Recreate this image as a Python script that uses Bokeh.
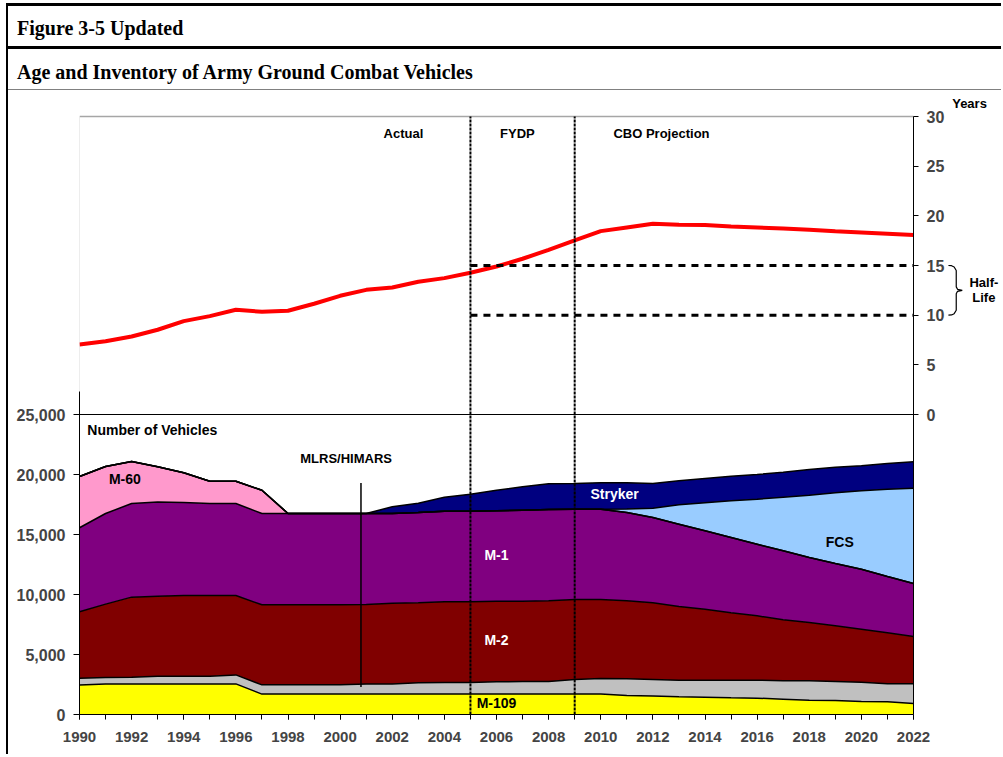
import numpy as np
from bokeh.plotting import figure
from bokeh.models import (Range1d, LinearAxis, FixedTicker, NumeralTickFormatter,
                          Label, Div, ColumnDataSource)
from bokeh.layouts import column
from bokeh.embed import file_html
from bokeh.resources import INLINE

# ---------------- data ----------------
years = list(range(1990, 2023))
m109 = [2450, 2550, 2550, 2550, 2550, 2550, 2550, 1700, 1700, 1700, 1700, 1700, 1700, 1700,
        1700, 1700, 1700, 1700, 1700, 1700, 1700, 1580, 1550, 1470, 1440, 1390, 1360, 1280,
        1190, 1170, 1080, 1060, 920]
mlrs_himars = [580, 530, 560, 640, 640, 640, 750, 770, 770, 770, 770, 850, 850, 940, 970, 970,
               1020, 1050, 1050, 1220, 1300, 1390, 1370, 1390, 1420, 1470, 1500, 1530, 1620,
               1580, 1610, 1500, 1640]
m2 = [5530, 6120, 6670, 6670, 6730, 6730, 6620, 6670, 6670, 6670, 6670, 6620, 6730, 6670, 6720,
      6730, 6720, 6690, 6720, 6660, 6580, 6500, 6390, 6140, 5920, 5610, 5360, 5080, 4860, 4640,
      4420, 4250, 3940]
m1 = [7000, 7550, 7800, 7840, 7750, 7660, 7660, 7610, 7610, 7610, 7610, 7580, 7470, 7520, 7550,
      7540, 7530, 7590, 7610, 7530, 7530, 7360, 7110, 6860, 6530, 6280, 5970, 5750, 5410, 5190,
      5000, 4690, 4420]
m60 = [4270, 3920, 3500, 2940, 2470, 1860, 1860, 1940] + [0] * 25
fcs = [0] * 21 + [300, 770, 1610, 2330, 3060, 3750, 4470, 5200, 5890, 6530, 7280, 7940]
stryker = [0] * 12 + [560, 780, 1170, 1420, 1720, 1940, 2140, 2140, 2200, 2190, 2060, 2000,
                      2030, 2050, 2060, 2080, 2140, 2140, 2080, 2140, 2200]
avg_age = [7.05, 7.38, 7.85, 8.53, 9.4, 9.9, 10.54, 10.34, 10.44, 11.15, 11.95, 12.55, 12.79,
           13.36, 13.73, 14.27, 14.9, 15.68, 16.58, 17.52, 18.46, 18.83, 19.2, 19.1, 19.07,
           18.93, 18.83, 18.73, 18.6, 18.46, 18.33, 18.2, 18.06]
half_life = [10, 15]
period_breaks = [2005, 2009]
x_ticks = list(range(1990, 2023, 2))
vehicle_ticks = [0, 5000, 10000, 15000, 20000, 25000]
age_ticks = [0, 5, 10, 15, 20, 25, 30]

series_names = ["m109", "mlrs", "m2", "m1", "m60", "fcs", "stryker"]
series_colors = ["#FFFF00", "#C0C0C0", "#800000", "#800080", "#FF99CC", "#99CCFF", "#000080"]

# ---------------- geometry / scales ----------------
X0, X1 = years[0], years[-1]
FRAME_W, FRAME_H = 922, 620
PX_PER_YEAR = 834 / (X1 - X0)
PX_PER_VEH = 300 / 25000
PX_PER_AGE = 298 / 30
VEH_AT_AGE0 = 25000
x_end = X0 + FRAME_W / PX_PER_YEAR
VMAX = FRAME_H / PX_PER_VEH
age_lo = -VEH_AT_AGE0 * PX_PER_VEH / PX_PER_AGE
age_hi = age_lo + FRAME_H / PX_PER_AGE


def age_to_veh(a):
    return VEH_AT_AGE0 + a * PX_PER_AGE / PX_PER_VEH


FONT = "Liberation Sans"

p = figure(x_range=Range1d(X0, x_end), y_range=Range1d(0, VMAX),
           frame_width=FRAME_W, frame_height=FRAME_H,
           min_border_left=71, min_border_right=0, min_border_top=4, min_border_bottom=40,
           output_backend="svg", toolbar_location=None)
p.extra_y_ranges = {"age": Range1d(age_lo, age_hi)}
p.xgrid.visible = False
p.ygrid.visible = False
p.outline_line_color = None
p.background_fill_color = "white"
p.border_fill_color = "white"

src = ColumnDataSource(dict(year=years, m109=m109, mlrs=mlrs_himars, m2=m2, m1=m1, m60=m60,
                            fcs=fcs, stryker=stryker))
p.varea_stack(stackers=series_names, x="year", color=series_colors, source=src)

cum = np.cumsum(np.array([m109, mlrs_himars, m2, m1, m60, fcs, stryker], dtype=float), axis=0)
for row in cum:
    p.line(years, row, line_color="black", line_width=1.5)

# panel frame lines of the age chart
top_veh = age_to_veh(age_ticks[-1])
p.segment(x0=[X0], x1=[X1], y0=[top_veh], y1=[top_veh], line_color="#a6a6a6", line_width=1.5)
p.segment(x0=[X0], x1=[X0], y0=[26900], y1=[top_veh], line_color="#dcdcdc", line_width=1)
p.segment(x0=[X0], x1=[X1], y0=[VEH_AT_AGE0], y1=[VEH_AT_AGE0], line_color="black",
          line_width=1)

# age line
p.line(years, avg_age, y_range_name="age", line_color="#FF0000", line_width=4)

# half-life dashed reference lines
p.segment(x0=[period_breaks[0]] * 2, x1=[X1] * 2, y0=half_life, y1=half_life,
          y_range_name="age", line_color="black", line_width=3, line_dash="7 6")

# MLRS/HIMARS pointer
mlrs_pointer_year = 2000.8
p.segment(x0=[mlrs_pointer_year], x1=[mlrs_pointer_year], y0=[2300], y1=[19300],
          line_color="black", line_width=1.5)

# period dividers
p.segment(x0=period_breaks, x1=period_breaks, y0=[0, 0], y1=[top_veh, top_veh],
          line_color="black", line_width=2, line_dash="3 1")

# half-life brace
bx0, bx1, bx2 = 2023.34, 2023.64, 2023.87
hl_lo, hl_hi = half_life
mid = (hl_lo + hl_hi) / 2
brace_x = [bx0, bx0 + 0.12, bx0 + 0.22, bx1, bx1, bx1 + 0.05, bx2, bx1 + 0.05, bx1, bx1,
           bx0 + 0.22, bx0 + 0.12, bx0]
brace_age = [hl_hi, hl_hi - 0.02, hl_hi - 0.15, hl_hi - 0.5, mid + 0.35, mid + 0.1, mid,
             mid - 0.1, mid - 0.35, hl_lo + 0.5, hl_lo + 0.15, hl_lo + 0.02, hl_lo]
p.line(brace_x, brace_age, y_range_name="age", line_color="black", line_width=1.2)

# axes
p.xaxis.ticker = FixedTicker(ticks=x_ticks, minor_ticks=years)
p.xaxis.bounds = (X0, X1)
p.xaxis.major_tick_out = 5
p.xaxis.major_tick_in = 0
p.xaxis.minor_tick_out = 5
p.xaxis.minor_tick_in = 0
p.xaxis.major_label_standoff = 12
p.xaxis.major_label_text_font = FONT
p.xaxis.major_label_text_font_style = "bold"
p.xaxis.major_label_text_font_size = "15px"
p.xaxis.axis_line_color = "black"

p.yaxis.ticker = FixedTicker(ticks=vehicle_ticks)
p.yaxis.formatter = NumeralTickFormatter(format="0,0")
p.yaxis.bounds = (0, 26900)
p.yaxis.major_tick_out = 6
p.yaxis.major_tick_in = 0
p.yaxis.minor_tick_out = 0
p.yaxis.minor_tick_in = 0
p.yaxis.major_label_standoff = 8
p.yaxis.major_label_text_font = FONT
p.yaxis.major_label_text_font_style = "bold"
p.yaxis.major_label_text_font_size = "16px"

ax_r = LinearAxis(y_range_name="age", ticker=FixedTicker(ticks=age_ticks),
                  fixed_location=X1, bounds=(age_lo, age_ticks[-1]))
ax_r.major_tick_out = 5
ax_r.major_tick_in = 0
ax_r.minor_tick_out = 0
ax_r.minor_tick_in = 0
ax_r.major_label_standoff = 8
ax_r.major_label_text_font = FONT
ax_r.major_label_text_font_style = "bold"
ax_r.major_label_text_font_size = "16px"
p.add_layout(ax_r, "right")


def lab(x, y, text, size="13px", color="black", align="center"):
    p.add_layout(Label(x=x, y=y, text=text, text_font=FONT, text_font_style="bold",
                       text_font_size=size, text_color=color, text_align=align,
                       text_baseline="middle"))


# period titles (top panel)
lab(2002.43, age_to_veh(28.3), "Actual")
lab(2006.8, age_to_veh(28.3), "FYDP")
lab(2012.33, age_to_veh(28.3), "CBO Projection")
lab(2024.15, age_to_veh(31.3), "Years")
lab(2024.7, age_to_veh(13.3), "Half-")
lab(2024.7, age_to_veh(11.8), "Life")

# lower panel labels
lab(1990.3, 23750, "Number of Vehicles", size="14px", align="left")
lab(2000.23, 21300, "MLRS/HIMARS")
lab(1991.74, 19650, "M-60", size="14px")
lab(2006.0, 13290, "M-1", size="14px", color="white")
lab(2006.0, 6190, "M-2", size="14px", color="white")
lab(2006.0, 945, "M-109", size="14px")
lab(2010.53, 18370, "Stryker", size="14px", color="white")
lab(2019.17, 14360, "FCS", size="14px")

header_html = (
    '<div style="box-sizing:content-box;width:993px;font-family:\'Liberation Serif\',serif;'
    'font-weight:bold;font-size:20px;color:#000;">'
    '<div style="box-sizing:content-box;border-top:3px solid #000;border-bottom:3px solid #000;'
    'height:36px;line-height:36px;padding-top:4px;padding-left:9px;">Figure 3-5 Updated</div>'
    '<div style="box-sizing:content-box;border-bottom:1px solid #808080;height:33px;'
    'line-height:33px;padding-top:7px;padding-left:9px;">'
    'Age and Inventory of Army Ground Combat Vehicles</div>'
    '</div>'
)
header = Div(text=header_html, width=993, height=87, margin=0)

layout = column(header, p, margin=(3, 0, 0, 6), styles={"border-left": "2px solid black"})

open("out.html", "w").write(file_html(layout, INLINE))
